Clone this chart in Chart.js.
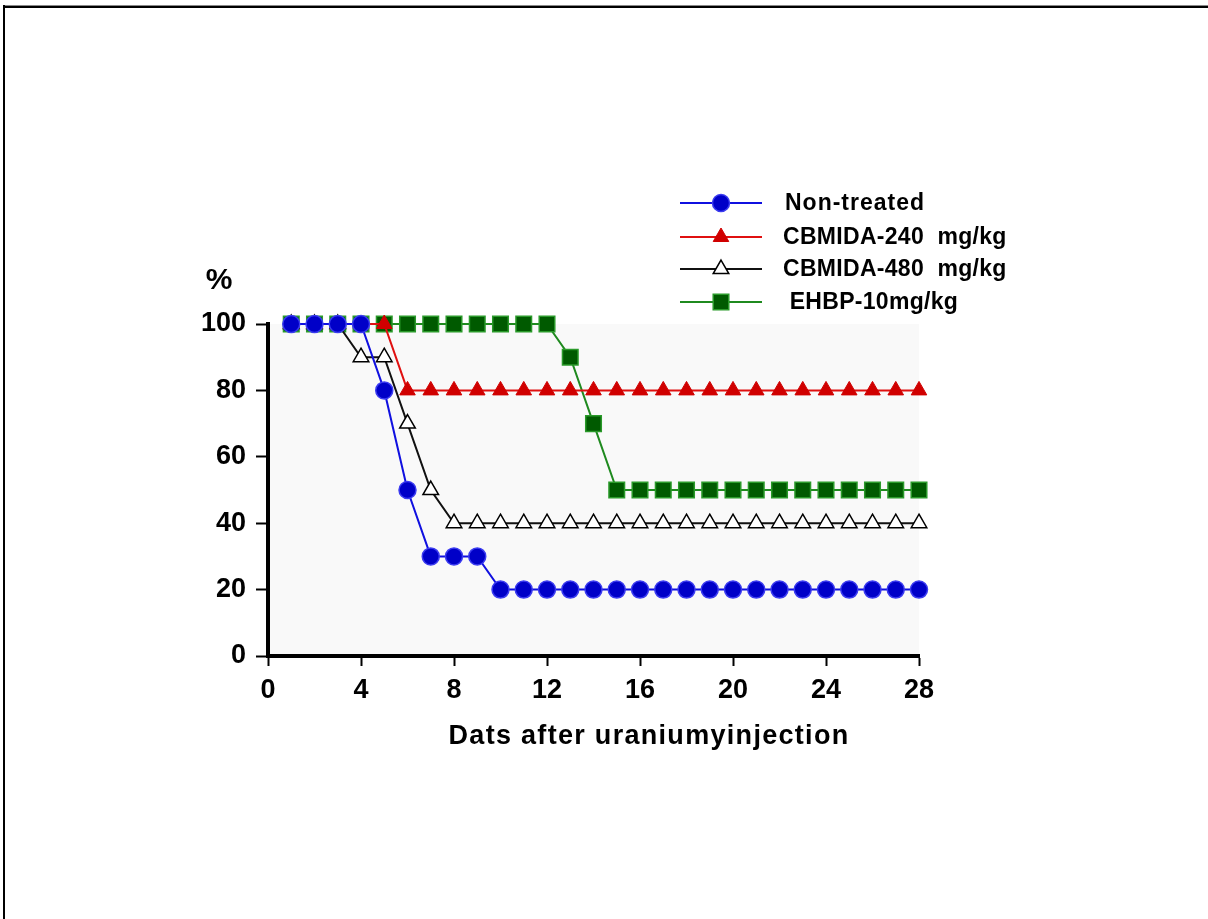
<!DOCTYPE html>
<html>
<head>
<meta charset="utf-8">
<script src="https://cdn.jsdelivr.net/npm/chart.js@4/dist/chart.umd.min.js"></script>
<style>
  html, body { margin: 0; padding: 0; background: #fff; }
  #wrap { position: relative; width: 1208px; height: 919px; }
  #frameTop { position: absolute; left: 3px; top: 5px; width: 1205px; height: 1px; background: #888; border-bottom: 2px solid #000; }
  #frameLeft { position: absolute; left: 3px; top: 5px; width: 2px; height: 914px; background: #000; }
</style>
</head>
<body>
<div id="wrap">
  <canvas id="survChart" width="1208" height="919"></canvas>
  <div id="frameTop"></div>
  <div id="frameLeft"></div>
</div>
<script>
// days after injection
const days = [1, 2, 3, 4, 5, 6, 7, 8, 9, 10, 11, 12, 13, 14, 15, 16, 17, 18, 19, 20, 21, 22, 23, 24, 25, 26, 27, 28];

// survival in %
const nonTreated = [100, 100, 100, 100, 80, 50, 30, 30, 30, 20, 20, 20, 20, 20, 20, 20, 20, 20, 20, 20, 20, 20, 20, 20, 20, 20, 20, 20];
const cbmida240  = [100, 100, 100, 100, 100, 80, 80, 80, 80, 80, 80, 80, 80, 80, 80, 80, 80, 80, 80, 80, 80, 80, 80, 80, 80, 80, 80, 80];
const cbmida480  = [100, 100, 100, 90, 90, 70, 50, 40, 40, 40, 40, 40, 40, 40, 40, 40, 40, 40, 40, 40, 40, 40, 40, 40, 40, 40, 40, 40];
const ehbp10     = [100, 100, 100, 100, 100, 100, 100, 100, 100, 100, 100, 100, 90, 70, 50, 50, 50, 50, 50, 50, 50, 50, 50, 50, 50, 50, 50, 50];

const seriesNames = ['Non-treated', 'CBMIDA-240  mg/kg', 'CBMIDA-480  mg/kg', ' EHBP-10mg/kg'];

const xTicks = [0, 4, 8, 12, 16, 20, 24, 28];
const yTicks = [0, 20, 40, 60, 80, 100];

const xTitle = 'Dats after uraniumyinjection';
const yTitle = '%';

const family = '"Liberation Sans", Arial, sans-serif';
const f = s => 'bold ' + s + 'px ' + family;

function pts(vals) {
  return vals.map((v, i) => ({ x: days[i], y: v }));
}

// grey plot background
const plotBg = {
  id: 'plotBg',
  beforeDraw(chart) {
    const { ctx, chartArea: a } = chart;
    ctx.save();
    ctx.fillStyle = '#f9f9f9';
    ctx.fillRect(a.left, a.top, a.right - a.left, a.bottom - a.top);
    ctx.restore();
  }
};

// legend + titles drawn in the free space
const extras = {
  id: 'extras',
  afterDraw(chart) {
    const ctx = chart.ctx;
    ctx.save();
    ctx.fillStyle = '#000';
    ctx.textBaseline = 'middle';

    ctx.font = f(30);
    ctx.textAlign = 'center';
    ctx.fillText(yTitle, 219, 281);

    ctx.font = f(27);
    ctx.letterSpacing = '1.3px';
    ctx.fillText(xTitle, 649, 737);

    const rowsY = [203, 237, 269, 302];
    const textX = [785, 783, 783, 783];
    chart.data.datasets.forEach((ds, i) => {
      const y = rowsY[i];
      ctx.strokeStyle = ds.borderColor;
      ctx.lineWidth = 2;
      ctx.beginPath();
      ctx.moveTo(680, y);
      ctx.lineTo(762, y);
      ctx.stroke();
      ctx.lineWidth = ds.pointBorderWidth;
      ctx.strokeStyle = ds.pointBorderColor;
      ctx.fillStyle = ds.pointBackgroundColor;
      Chart.helpers.drawPoint(ctx, {
        pointStyle: ds.pointStyle,
        radius: ds.pointRadius,
        borderWidth: ds.pointBorderWidth,
        rotation: 0
      }, 721, y);
      ctx.fillStyle = '#000';
      ctx.font = f(23);
      ctx.letterSpacing = i === 0 ? '1px' : '0.3px';
      ctx.textAlign = 'left';
      ctx.fillText(ds.label, textX[i], y + 1);
    });
    ctx.restore();
  }
};

const tickFont = { family: family, size: 27, weight: 'bold' };

new Chart(document.getElementById('survChart'), {
  type: 'line',
  data: {
    datasets: [
      {
        label: seriesNames[0], data: pts(nonTreated),
        borderColor: '#1010e0', borderWidth: 2,
        pointStyle: 'circle', pointRadius: 8.5,
        pointBackgroundColor: '#0000c8', pointBorderColor: '#3b3bf0', pointBorderWidth: 1.5
      },
      {
        label: seriesNames[1], data: pts(cbmida240),
        borderColor: '#e01010', borderWidth: 2,
        pointStyle: 'triangle', pointRadius: 9,
        pointBackgroundColor: '#d00000', pointBorderColor: '#d00000', pointBorderWidth: 1
      },
      {
        label: seriesNames[2], data: pts(cbmida480),
        borderColor: '#111', borderWidth: 2,
        pointStyle: 'triangle', pointRadius: 9,
        pointBackgroundColor: '#fff', pointBorderColor: '#000', pointBorderWidth: 1.5
      },
      {
        label: seriesNames[3], data: pts(ehbp10),
        borderColor: '#1f8a1f', borderWidth: 2,
        pointStyle: 'rect', pointRadius: 11,
        pointBackgroundColor: '#005a00', pointBorderColor: '#2a9a2a', pointBorderWidth: 1.5
      }
    ]
  },
  options: {
    responsive: false,
    animation: false,
    clip: false,
    layout: { padding: { left: 0, right: 289, top: 324, bottom: 203 } },
    plugins: {
      legend: { display: false },
      tooltip: { enabled: false }
    },
    scales: {
      x: {
        type: 'linear', min: 0, max: 28,
        afterFit: s => { s.height = 60; },
        afterBuildTicks: s => { s.ticks = xTicks.map(v => ({ value: v })); },
        border: { color: '#000', width: 4 },
        grid: { drawOnChartArea: false, drawTicks: true, tickLength: 10, tickWidth: 2, color: '#000' },
        ticks: { color: '#000', font: tickFont, padding: 8, maxRotation: 0 }
      },
      y: {
        min: 0, max: 100,
        afterFit: s => { s.width = 268; },
        afterBuildTicks: s => { s.ticks = yTicks.map(v => ({ value: v })); },
        border: { color: '#000', width: 4 },
        grid: { drawOnChartArea: false, drawTicks: true, tickLength: 12, tickWidth: 2, color: '#000' },
        ticks: { color: '#000', font: tickFont, padding: 10 }
      }
    }
  },
  plugins: [plotBg, extras]
});
</script>
</body>
</html>
